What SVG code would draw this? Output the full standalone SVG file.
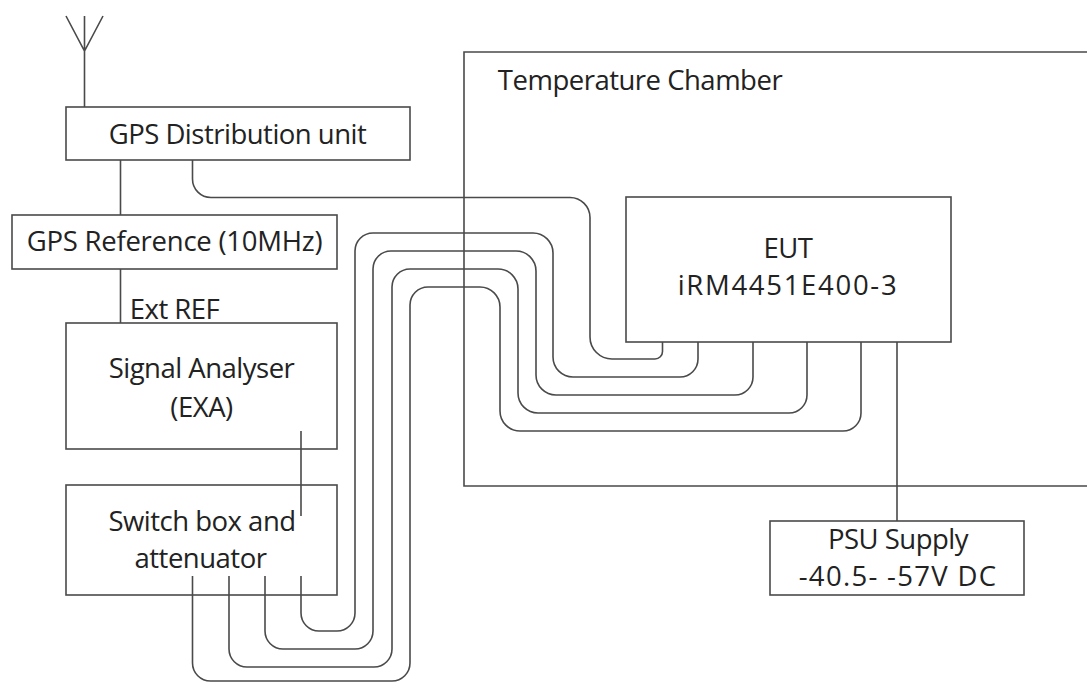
<svg xmlns="http://www.w3.org/2000/svg" width="1087" height="682" viewBox="0 0 1087 682">
<style>
.b{fill:none;stroke:#4a4a4a;stroke-width:1.6}
.c{fill:none;stroke:#4a4a4a;stroke-width:1.6}
text{font-family:"Open Sans","Noto Sans",sans-serif;font-size:27.5px;letter-spacing:-0.5px;fill:#222;text-anchor:middle}
.w{letter-spacing:1.7px}
.m{letter-spacing:1.3px}
.r{letter-spacing:-0.25px}
</style>
<rect width="1087" height="682" fill="#fff"/>
<g id="chamber"><path class="b" d="M1087 52H464V486H1087"/><text x="640" y="90">Temperature Chamber</text></g>
<g id="antenna"><path class="b" d="M66 16L84.500 51L103 16M84.500 16V107"/></g>
<g id="gps-dist"><rect class="b" x="66" y="107" width="344" height="53"/><text x="237.500" y="144">GPS Distribution unit</text></g>
<g id="gps-ref"><rect class="b" x="12" y="215" width="325" height="54"/><text class="r" x="174.500" y="251">GPS Reference (10MHz)</text></g>
<g id="ext-ref"><text x="174.500" y="319">Ext REF</text></g>
<g id="analyser"><rect class="b" x="66" y="323" width="271" height="126"/><text x="201.500" y="378">Signal Analyser</text><text x="201.500" y="417">(EXA)</text></g>
<g id="switch"><rect class="b" x="66" y="485" width="271" height="110"/><text x="202" y="531">Switch box and</text><text x="200.500" y="568">attenuator</text></g>
<g id="eut"><rect class="b" x="626" y="197" width="325" height="145"/><text x="788" y="258">EUT</text><text class="w" x="788" y="295">iRM4451E400-3</text></g>
<g id="psu"><rect class="b" x="770" y="521" width="254" height="74"/><text x="898" y="549">PSU Supply</text><text class="m" x="898" y="586">-40.5- -57V DC</text></g>
<g id="connectors">
<path class="c" d="M120.500 160V215M120.500 269V323M301 431V516M897 342V521"/>
<path class="c" d="M192.500 160V179A18.500 18.500 0 0 0 211 197.500H570A20 20 0 0 1 590 217.500V337A22 22 0 0 0 612 359H655A7.500 7.500 0 0 0 662.500 351.500V342"/>
<path class="c" d="M301 576V613A18 18 0 0 0 319 631H337A18 18 0 0 0 355 613V251A18 18 0 0 1 373 233H533A20 20 0 0 1 553 253V357A20 20 0 0 0 573 377H680A18 18 0 0 0 698 359V342"/>
<path class="c" d="M265 576V631A18 18 0 0 0 283 649H355A18 18 0 0 0 373 631V269A18 18 0 0 1 391 251H516A20 20 0 0 1 536 271V375A20 20 0 0 0 556 395H735A18 18 0 0 0 753 377V342"/>
<path class="c" d="M229 576V649A18 18 0 0 0 247 667H374A18 18 0 0 0 392 649V287A18 18 0 0 1 410 269H498A20 20 0 0 1 518 289V393A20 20 0 0 0 538 413H789A18 18 0 0 0 807 395V342"/>
<path class="c" d="M192.500 576V663A18 18 0 0 0 210.500 681H392A18 18 0 0 0 410 663V305A18 18 0 0 1 428 287H480A20 20 0 0 1 500 307V411A20 20 0 0 0 520 431H843A18 18 0 0 0 861 413V342"/>
</g>
</svg>
